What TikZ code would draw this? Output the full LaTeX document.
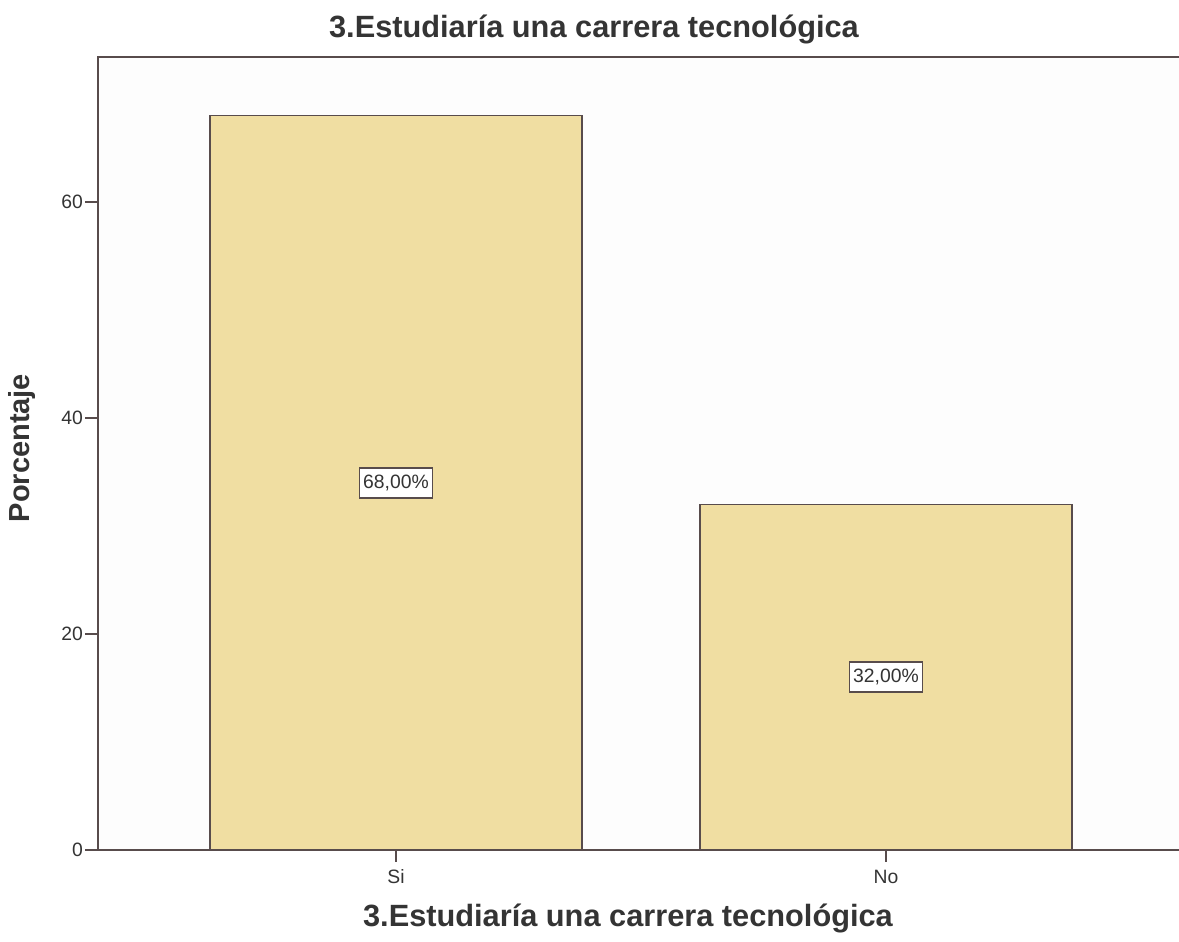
\documentclass[tikz,border=0pt]{standalone}
\usepackage{fontspec}
\setmainfont{Liberation Sans}
\usetikzlibrary{positioning}
\definecolor{barfill}{RGB}{240,222,162}
\definecolor{barline}{RGB}{88,76,76}
\definecolor{ink}{RGB}{52,52,52}
\definecolor{plotbg}{RGB}{253,253,253}
\tikzstyle{bar}=[draw=barline, fill=barfill, line width=0.9pt]
\tikzstyle{axis}=[draw=barline, line width=0.9pt]
\tikzstyle{pct}=[draw=barline, fill=white, line width=0.9pt, inner xsep=2.2pt, inner ysep=4pt, text=ink, font=\fontsize{11}{13}\selectfont]
\tikzstyle{ticklab}=[text=ink, font=\fontsize{11}{13}\selectfont]
\tikzstyle{heading}=[text=ink, font=\bfseries\fontsize{17.5}{20}\selectfont]

\begin{document}
\begin{tikzpicture}[x=0.02cm,y=0.02cm]
\useasboundingbox (0,0) rectangle (1179,942);
\fill[white] (0,0) rectangle (1179,942);
\fill[plotbg] (98,92) rectangle (1179,885);
\coordinate (o) at (98,92);
\coordinate (tl) at (98,885);
\coordinate (tr) at (1179,885);
\coordinate (br) at (1179,92);
\draw[axis] (o) -- (tl) -- (tr);
% bars
\foreach \n/\c/\v/\lab in {si/396/68/{68,00\%},no/886/32/{32,00\%}} {
	\draw[bar] (\c-186,92) rectangle (\c+186,92+10.8*\v);
	\node[pct] (p\n) at (\c,92+5.4*\v) {\lab};
}
% axes and ticks
\draw[axis] (85,92) -- (br);
\foreach \v in {0,20,40,60} {
	\draw[axis] (85,92+10.8*\v) -- (98,92+10.8*\v);
	\node[ticklab, anchor=east, inner sep=1pt] (y\v) at (85,92+10.8*\v) {\v};
}
\foreach \n/\c/\lab in {si/396/Si,no/886/No} {
	\coordinate (t\n) at (\c,92);
	\draw[axis] (t\n) -- ++(0,-12) coordinate (e\n);
	\node[ticklab, below=1pt of e\n] (x\n) {\lab};
}
\node[heading] (title) at (594,912) {3.Estudiaría una carrera tecnológica};
\node[heading] (xlab) at (628,24) {3.Estudiaría una carrera tecnológica};
\node[heading, rotate=90, font=\bfseries\fontsize{16.5}{20}\selectfont] (ylab) at (22,494) {Porcentaje};
\end{tikzpicture}
\end{document}
